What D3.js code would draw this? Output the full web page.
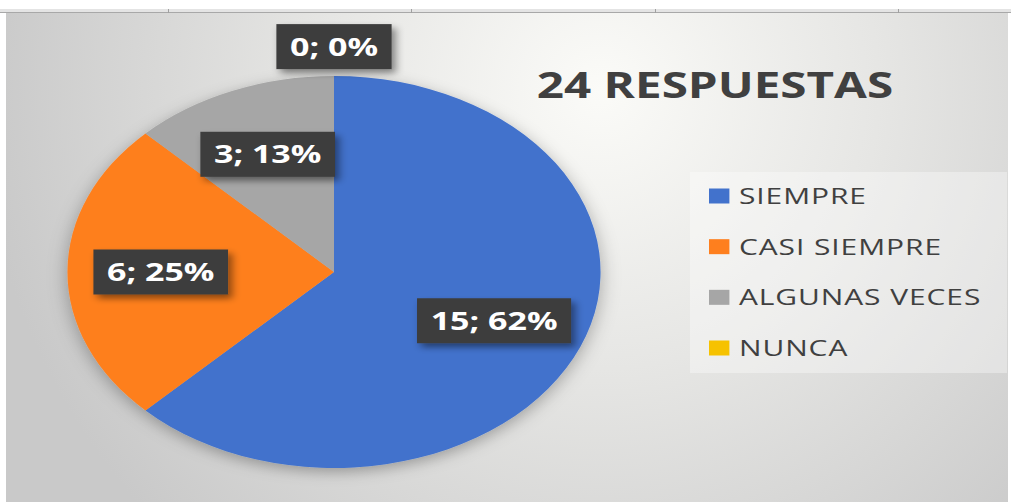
<!DOCTYPE html>
<html>
<head>
<meta charset="utf-8">
<script src="https://cdn.jsdelivr.net/npm/d3@7"></script>
<style>
  body { margin: 0; background: #fff; }
  svg { display: block; }
</style>
</head>
<body>
<div id="chart"></div>
<script>
// Respuestas por categoria
const categories = ["SIEMPRE", "CASI SIEMPRE", "ALGUNAS VECES", "NUNCA"];
const counts = [15, 6, 3, 0];
const percents = ["62%", "25%", "13%", "0%"];
const colors = ["#4272cc", "#fe7f1e", "#a6a6a6", "#f6c200"];
const title = "24 RESPUESTAS";

const width = 1011;
const height = 502;
const sx = 1.36;   // the original picture is stretched sideways

const svg = d3.select("#chart")
    .append("svg")
    .attr("width", width)
    .attr("height", height);

const defs = svg.append("defs");

const bg = defs.append("radialGradient")
    .attr("id", "bg")
    .attr("gradientUnits", "userSpaceOnUse")
    .attr("cx", 600).attr("cy", 90).attr("r", 620);
bg.append("stop").attr("offset", 0).attr("stop-color", "#fbfbf8");
bg.append("stop").attr("offset", 0.45).attr("stop-color", "#e6e6e4");
bg.append("stop").attr("offset", 1).attr("stop-color", "#c9c9c9");

const pieShadow = defs.append("filter").attr("id", "pieShadow")
    .attr("x", "-20%").attr("y", "-20%").attr("width", "140%").attr("height", "140%");
pieShadow.append("feDropShadow")
    .attr("dx", 0).attr("dy", 4).attr("stdDeviation", 7)
    .attr("flood-color", "#000").attr("flood-opacity", 0.3);

const boxShadow = defs.append("filter").attr("id", "boxShadow")
    .attr("x", "-20%").attr("y", "-30%").attr("width", "150%").attr("height", "170%");
boxShadow.append("feDropShadow")
    .attr("dx", 3).attr("dy", 4).attr("stdDeviation", 3)
    .attr("flood-color", "#000").attr("flood-opacity", 0.45);

// spreadsheet strip at the top
svg.append("rect")
    .attr("x", 0).attr("y", 9).attr("width", width).attr("height", 4)
    .attr("fill", "#e4e4e4");
svg.append("line")
    .attr("x1", 0).attr("x2", width).attr("y1", 12.5).attr("y2", 12.5)
    .attr("stroke", "#a8a8a8").attr("stroke-width", 1);
[168, 411, 655, 898].forEach(function(x) {
    svg.append("line")
        .attr("x1", x + 0.5).attr("x2", x + 0.5).attr("y1", 9).attr("y2", 13)
        .attr("stroke", "#a0a0a0");
});

// chart area
svg.append("rect")
    .attr("x", 6).attr("y", 13)
    .attr("width", 1002).attr("height", height - 13)
    .attr("fill", "url(#bg)");

const g = svg.append("g").attr("transform", `scale(${sx},1)`);

const cx = 334 / sx;
const cy = 272;
const radius = 196;

const pie = d3.pie().sort(null).value(function(d) { return d; });
const arcs = pie(counts);

const arc = d3.arc().innerRadius(0).outerRadius(radius);
const labelArc = d3.arc().innerRadius(radius * 0.65).outerRadius(radius * 0.65);

const pieG = g.append("g")
    .attr("transform", `translate(${cx},${cy})`);

pieG.append("g")
    .attr("filter", "url(#pieShadow)")
    .selectAll("path")
    .data(arcs)
    .enter()
    .append("path")
        .attr("d", arc)
        .attr("fill", function(d, i) { return colors[i]; });

// data labels
const labels = pieG.selectAll("g.lbl")
    .data(arcs)
    .enter()
    .append("g")
        .attr("class", "lbl")
        .attr("transform", function(d) {
            if (d.value === 0) {
                const a = d.startAngle;
                return `translate(${Math.sin(a) * radius * 1.15},${-Math.cos(a) * radius * 1.15})`;
            }
            const c = labelArc.centroid(d);
            return `translate(${c[0]},${c[1]})`;
        });

labels.append("rect")
    .attr("fill", "#3d3d3d")
    .attr("filter", "url(#boxShadow)");

labels.append("text")
    .attr("text-anchor", "middle")
    .attr("dy", "0.36em")
    .style("font-family", "'Open Sans', sans-serif")
    .style("font-weight", "bold")
    .style("font-size", "25px")
    .attr("fill", "#ffffff")
    .text(function(d, i) { return `${counts[i]}; ${percents[i]}`; });

labels.each(function() {
    const t = d3.select(this).select("text");
    const w = t.node().getComputedTextLength() + 20;
    d3.select(this).select("rect")
        .attr("x", -w / 2).attr("y", -22.5)
        .attr("width", w).attr("height", 45);
});

// title
g.append("text")
    .attr("x", 715 / sx)
    .attr("y", 98)
    .attr("text-anchor", "middle")
    .style("font-family", "'Open Sans', sans-serif")
    .style("font-weight", "bold")
    .style("font-size", "35px")
    .attr("fill", "#404040")
    .text(title);

// legend
const legendG = g.append("g");
legendG.append("rect")
    .attr("x", 690 / sx).attr("y", 172)
    .attr("width", 317 / sx).attr("height", 201)
    .attr("fill", "#ffffff").attr("fill-opacity", 0.35);

const yLegend = d3.scalePoint()
    .domain(categories)
    .range([196, 348]);

const items = legendG.selectAll("g.item")
    .data(categories)
    .enter()
    .append("g")
        .attr("class", "item")
        .attr("transform", function(d) { return `translate(${709 / sx},${yLegend(d)})`; });

items.append("rect")
    .attr("x", 0).attr("y", -7.5)
    .attr("width", 15).attr("height", 15)
    .attr("fill", function(d, i) { return colors[i]; });

items.append("text")
    .attr("x", 22)
    .attr("dy", "0.36em")
    .style("font-family", "'Open Sans', sans-serif")
    .style("font-size", "22px")
    .style("letter-spacing", "0.7px")
    .attr("fill", "#404040")
    .text(function(d) { return d; });
</script>
</body>
</html>
